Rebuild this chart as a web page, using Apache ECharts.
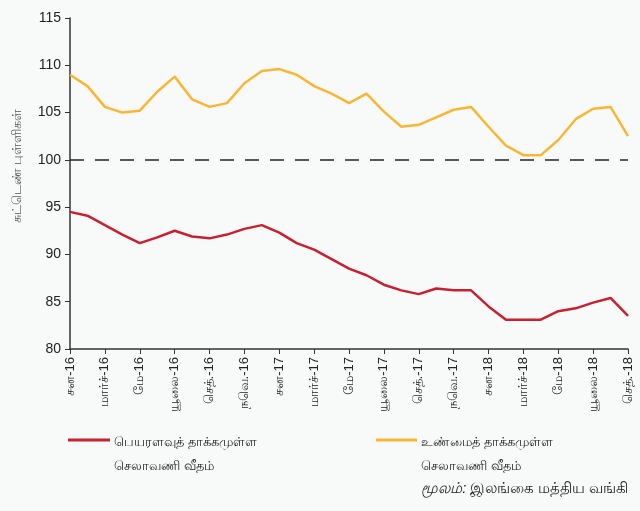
<!DOCTYPE html>
<html><head><meta charset="utf-8">
<script src="https://cdn.jsdelivr.net/npm/echarts@6/dist/echarts.min.js"></script>
<style>html,body{margin:0;padding:0;background:#ffffff;}#c{width:640px;height:511px;}</style>
</head><body><div id="c"></div>
<script>
const months = ['சன-16','பெப்-16','மார்ச்-16','ஏப்-16','மே-16','யூன்-16','யூலை-16','ஓக-16','செத்.-16','ஒக்-16','நவெ.-16','டிச-16',
'சன-17','பெப்-17','மார்ச்-17','ஏப்-17','மே-17','யூன்-17','யூலை-17','ஓக-17','செத்.-17','ஒக்-17','நவெ.-17','டிச-17',
'சன-18','பெப்-18','மார்ச்-18','ஏப்-18','மே-18','யூன்-18','யூலை-18','ஓக-18','செத்.-18'];
const nominal = [94.5,94.1,93.1,92.1,91.2,91.8,92.5,91.9,91.7,92.1,92.7,93.1,
92.3,91.2,90.5,89.5,88.5,87.8,86.8,86.2,85.8,86.4,86.2,86.2,
84.5,83.1,83.1,83.1,84.0,84.3,84.9,85.4,83.5];
const real = [109.0,107.8,105.6,105.0,105.2,107.2,108.8,106.4,105.6,106.0,108.1,109.4,
109.6,109.0,107.8,107.0,106.0,107.0,105.1,103.5,103.7,104.5,105.3,105.6,
103.5,101.5,100.5,100.5,102.1,104.3,105.4,105.6,102.5];
const yTicks = [80,85,90,95,100,105,110,115];
const baseline = 100;
const nominalName = 'பெயரளவுத் தாக்கமுள்ள\nசெலாவணி வீதம்';
const realName = 'உண்மைத் தாக்கமுள்ள\nசெலாவணி வீதம்';
const yName = 'சுட்டெண் புள்ளிகள்';
const source = 'இலங்கை மத்திய வங்கி';

const chart = echarts.init(document.getElementById('c'), null, {renderer:'canvas'});
const font = 'Liberation Sans, Arial, "Noto Sans", sans-serif';
chart.setOption({
  backgroundColor:'#f8fafa',
  animation:false,
  textStyle:{fontFamily:font},
  grid:{left:70,right:12,top:18,bottom:162,containLabel:false},
  xAxis:{type:'category',data:months,boundaryGap:false,
    axisLine:{lineStyle:{color:'#333',width:1.5}},
    axisTick:{interval:1,length:5,lineStyle:{color:'#333'},inside:false},
    axisLabel:{interval:1,rotate:90,color:'#222',fontSize:13,margin:8,fontFamily:font}},
  yAxis:{type:'value',min:80,max:115,interval:5,
    axisLine:{show:true,lineStyle:{color:'#333',width:1.5}},
    axisTick:{show:true,length:5,lineStyle:{color:'#333'}},
    splitLine:{show:false},
    axisLabel:{color:'#222',fontSize:14,margin:9,fontFamily:font}},
  legend:{show:false},
  series:[
    {name:nominalName,type:'line',data:nominal,symbol:'none',lineStyle:{color:'#c8202f',width:2.5},itemStyle:{color:'#c8202f'},
     markLine:{silent:true,symbol:'none',label:{show:false},lineStyle:{color:'#222',type:[14,11],width:1.5},data:[{yAxis:baseline}]}},
    {name:realName,type:'line',data:real,symbol:'none',lineStyle:{color:'#fbb534',width:2.5},itemStyle:{color:'#fbb534'}}
  ],
  graphic:[
    {type:'text',x:17,y:166,rotation:Math.PI/2,style:{text:yName,font:'13px '+font,fill:'#555',align:'center',verticalAlign:'middle'}},
    {type:'line',shape:{x1:68,y1:440,x2:110,y2:440},style:{stroke:'#c8202f',lineWidth:3}},
    {type:'text',left:114,top:430,style:{text:nominalName,font:'13px '+font,fill:'#222',lineHeight:24}},
    {type:'line',shape:{x1:376,y1:440,x2:417,y2:440},style:{stroke:'#fbb534',lineWidth:3}},
    {type:'text',left:421,top:430,style:{text:realName,font:'13px '+font,fill:'#222',lineHeight:24}},
    {type:'text',right:12,top:481,style:{rich:{i:{fontStyle:'italic',fontSize:15,fontFamily:font,fill:'#222'},n:{fontSize:15,fontFamily:font,fill:'#222'}},text:'{i|மூலம்:} {n|'+source+'}'}}
  ]
});
</script></body></html>
